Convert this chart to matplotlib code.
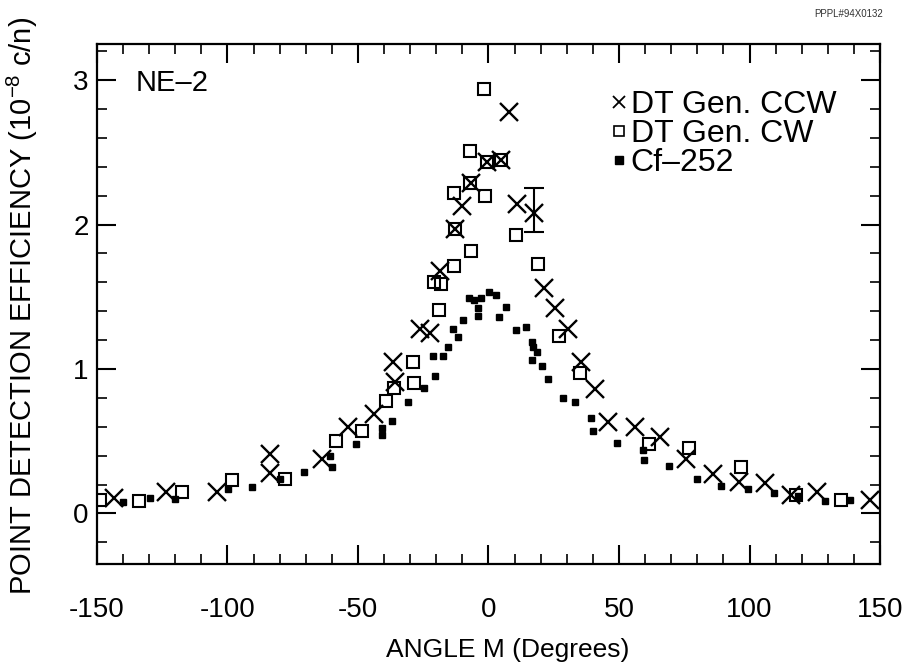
import matplotlib
matplotlib.use("Agg")
import matplotlib.pyplot as plt
from matplotlib.lines import Line2D
from matplotlib.ticker import MultipleLocator

plt.rcParams['font.family'] = ['Liberation Sans', 'DejaVu Sans']
plt.rcParams['mathtext.fontset'] = 'custom'
plt.rcParams['mathtext.rm'] = 'Liberation Sans'
plt.rcParams['axes.unicode_minus'] = False

# DT generator, counter-clockwise (x markers)
ccw_x = [-143.6, -123.4, -104.0, -83.7, -83.7, -63.7, -53.7, -44.0, -36.4, -35.9,
         -26.3, -22.4, -18.7, -12.7, -10.0, -6.8, -0.6, 4.7, 7.9, 10.9,
         17.5, 21.4, 25.4, 30.3, 35.4, 40.8, 45.9, 56.1, 65.9, 75.7,
         85.9, 95.8, 106.0, 116.0, 126.0, 146.0]
ccw_y = [0.11, 0.15, 0.15, 0.41, 0.28, 0.38, 0.60, 0.69, 1.05, 0.91,
         1.28, 1.25, 1.68, 1.97, 2.13, 2.29, 2.43, 2.45, 2.78, 2.14,
         2.08, 1.56, 1.42, 1.28, 1.05, 0.86, 0.63, 0.60, 0.53, 0.38,
         0.27, 0.22, 0.21, 0.13, 0.15, 0.09]

# DT generator, clockwise (open squares)
cw_x = [-149.0, -134.0, -117.6, -98.2, -78.0, -58.6, -48.3, -39.3, -36.2, -28.5,
        -28.8, -18.8, -20.8, -18.3, -13.1, -6.7, -12.7, -13.2, -6.9, -7.0,
        -1.2, -1.6, -0.6, 4.7, 10.6, 18.9, 27.1, 35.2, 61.6, 77.0,
        96.8, 117.9, 135.0]
cw_y = [0.09, 0.085, 0.15, 0.23, 0.24, 0.50, 0.57, 0.78, 0.87, 0.90,
        1.05, 1.41, 1.60, 1.59, 1.71, 1.82, 1.97, 2.22, 2.29, 2.51,
        2.20, 2.94, 2.43, 2.45, 1.93, 1.73, 1.23, 0.97, 0.48, 0.45,
        0.32, 0.13, 0.09]

# Cf-252 source (small filled squares)
cf_x = [-140.0, -129.8, -120.0, -99.8, -90.5, -79.9, -70.5, -60.7, -59.8, -50.9,
        -40.7, -40.9, -36.8, -30.8, -24.9, -20.4, -21.2, -17.3, -15.4, -13.6,
        -11.6, -9.6, -7.5, -5.5, -3.0, 0.3, 2.8, -4.2, -4.2, 4.2,
        6.6, 10.5, 14.4, 16.6, 16.9, 18.5, 16.6, 20.4, 22.9, 28.7,
        33.0, 39.2, 39.9, 49.2, 59.1, 59.7, 69.3, 79.9, 89.1, 99.6,
        109.3, 118.5, 128.8, 138.4]
cf_y = [0.08, 0.11, 0.10, 0.17, 0.18, 0.24, 0.29, 0.40, 0.32, 0.48,
        0.59, 0.54, 0.64, 0.77, 0.87, 0.95, 1.09, 1.09, 1.15, 1.28,
        1.22, 1.34, 1.49, 1.48, 1.49, 1.53, 1.51, 1.42, 1.37, 1.36,
        1.43, 1.27, 1.29, 1.19, 1.15, 1.12, 1.06, 1.02, 0.93, 0.80,
        0.77, 0.66, 0.57, 0.49, 0.44, 0.37, 0.33, 0.24, 0.19, 0.17,
        0.14, 0.12, 0.085, 0.09]

# single error bar on the CCW point at 17.5 deg
err_x = [17.5]
err_y = [2.08]
err_lo = [0.13]
err_hi = [0.17]

fig = plt.figure(figsize=(9.12, 6.65), dpi=100)
ax = fig.add_axes([97 / 912, 1 - 564 / 665, 783 / 912, 520 / 665])

ax.plot(cf_x, cf_y, ls='none', marker='s', ms=4.5, color='black')
ax.plot(cw_x, cw_y, ls='none', marker='s', ms=9, mfc='none', mec='black', mew=1.5)
ax.plot(ccw_x, ccw_y, ls='none', marker='x', ms=13, mew=1.7, color='black')
ax.errorbar(err_x, err_y, yerr=[err_lo, err_hi], fmt='none', ecolor='black',
            elinewidth=1.5, capsize=7, capthick=1.5)

ax.set_xlim(-150, 150)
ax.set_ylim(-0.35, 3.25)
ax.xaxis.set_major_locator(MultipleLocator(50))
ax.xaxis.set_minor_locator(MultipleLocator(10))
ax.yaxis.set_major_locator(MultipleLocator(1))
ax.yaxis.set_minor_locator(MultipleLocator(0.2))
ax.tick_params(which='both', direction='in', top=True, right=True, labelsize=20)
ax.tick_params(which='major', length=14, width=1.5)
ax.tick_params(which='minor', length=7, width=1.2)
ax.tick_params(axis='x', which='major', pad=24)
ax.tick_params(axis='y', which='major', pad=6)
for s in ax.spines.values():
    s.set_linewidth(1.6)

fig.text(22 / 912, 1 - 306 / 665, 'POINT DETECTION EFFICIENCY (10$^{\\mathrm{-8}}$ c/n)',
         rotation=90, ha='center', va='center', fontsize=21)
fig.text(508 / 912, 1 - 650 / 665, 'ANGLE M (Degrees)', ha='center', va='center', fontsize=19)

fig.text(136 / 912, 1 - 83 / 665, 'NE\u20132', fontsize=21, va='center')
fig.text(849 / 912, 1 - 14 / 665, 'PPPL#94X0132', ha='center', va='center',
         fontsize=7, color='#333333')

handles = [
    Line2D([], [], ls='none', marker='x', ms=8, mew=1.3, color='black'),
    Line2D([], [], ls='none', marker='s', ms=7, mfc='none', mec='black', mew=1.2),
    Line2D([], [], ls='none', marker='s', ms=6, color='black'),
]
labels = ['DT Gen. CCW', 'DT Gen. CW', 'Cf\u2013252']
ax.legend(handles, labels, loc='upper left', bbox_to_anchor=(0.659, 0.911),
          frameon=False, fontsize=23, handlelength=0.4, handletextpad=0.15,
          labelspacing=-0.04, borderpad=0, borderaxespad=0)

fig.savefig('out.png', dpi=100)
